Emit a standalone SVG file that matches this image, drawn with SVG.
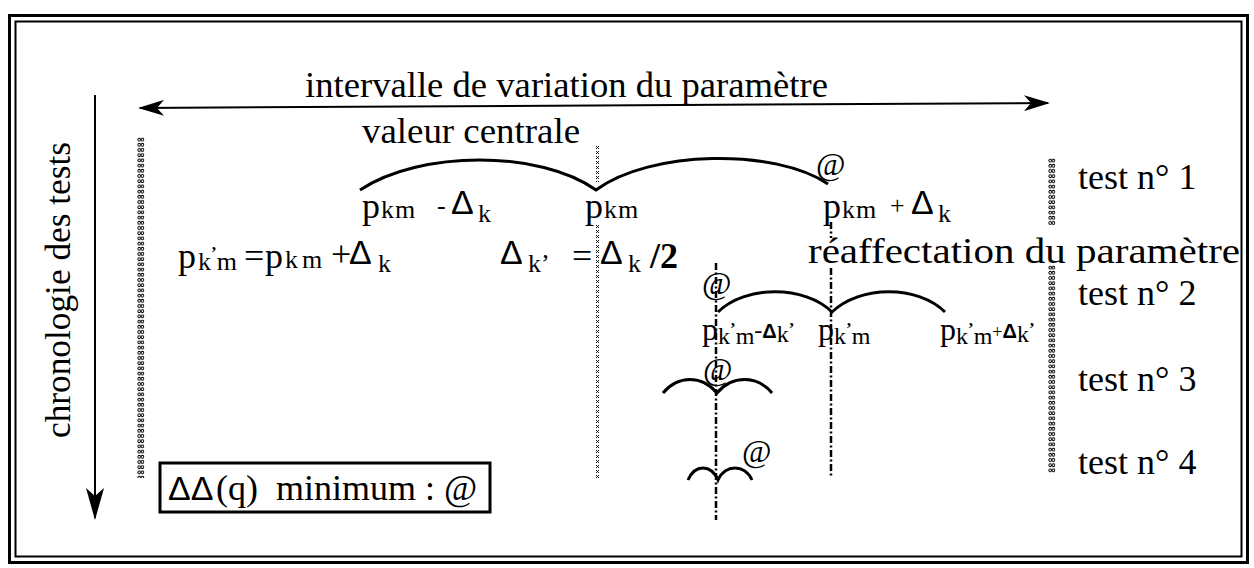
<svg xmlns="http://www.w3.org/2000/svg" width="1254" height="568" viewBox="0 0 1254 568">
<style>
text{fill:#000}
.t{font-family:"Liberation Serif","Times New Roman",serif;font-size:36px}
.p{font-family:"Liberation Serif","Times New Roman",serif;font-size:36px}
.sb{font-family:"Liberation Serif","Times New Roman",serif;font-size:26px}
.sb2{font-family:"Liberation Serif","Times New Roman",serif;font-size:24px}
.ap{font-size:17px;font-weight:bold}
.d{font-family:"Liberation Sans",Arial,sans-serif;font-size:34px}
.d2{font-family:"Liberation Sans",Arial,sans-serif;font-size:20px;font-weight:bold}
.at{font-family:"Liberation Serif","Times New Roman",serif;font-size:32px}
.curve{fill:none;stroke:#000;stroke-width:3}
.dd{stroke:#000;stroke-width:2.5;stroke-dasharray:7 2.5 2 2.5;fill:none}
.ln{stroke:#000;stroke-width:2;fill:none}
</style>
<defs>
<pattern id="oo" width="8" height="5.2" patternUnits="userSpaceOnUse">
<circle cx="2.2" cy="2.6" r="1.4" fill="none" stroke="#000" stroke-width="0.9"/>
<circle cx="5.4" cy="2.6" r="1.4" fill="none" stroke="#000" stroke-width="0.9"/>
</pattern>
<pattern id="xx" width="5" height="5" patternUnits="userSpaceOnUse">
<path d="M1,1 L4,4 M4,1 L1,4" stroke="#000" stroke-width="0.9"/>
</pattern>
<marker id="ah" viewBox="0 0 26 16" refX="24" refY="8" markerWidth="26" markerHeight="16" markerUnits="userSpaceOnUse" orient="auto-start-reverse">
<path d="M0,0 L26,8 L0,16 L7,8 Z" fill="#000"/>
</marker>
<marker id="av" viewBox="0 0 32 18" refX="30" refY="9" markerWidth="32" markerHeight="18" markerUnits="userSpaceOnUse" orient="auto">
<path d="M0,0 L32,9 L0,18 L8,9 Z" fill="#000"/>
</marker>
</defs>

<g id="frame">
<rect x="9.5" y="15.5" width="1238" height="547" fill="none" stroke="#000" stroke-width="3"/>
<rect x="15.5" y="21.5" width="1226" height="535" fill="none" stroke="#000" stroke-width="2"/>
</g>

<g id="connectors">
<line class="ln" x1="140" y1="108" x2="1048" y2="103" marker-start="url(#ah)" marker-end="url(#ah)"/>
<line class="ln" x1="95" y1="95" x2="95" y2="518" stroke-width="2.5" marker-end="url(#av)"/>
<line class="dd" x1="716" y1="263" x2="716" y2="520"/>
<line class="dd" x1="831" y1="222" x2="831" y2="238"/>
<line class="dd" x1="831" y1="268" x2="831" y2="478"/>
</g>

<g id="columns">
<g transform="translate(137,137)"><rect width="8" height="341" fill="url(#oo)"/></g>
<g transform="translate(1048,158)"><rect width="8" height="67" fill="url(#oo)"/></g>
<g transform="translate(1048,265)"><rect width="8" height="208" fill="url(#oo)"/></g>
<g transform="translate(595,145)"><rect width="5" height="37" fill="url(#xx)"/></g>
<g transform="translate(595,224)"><rect width="5" height="255" fill="url(#xx)"/></g>
</g>

<g id="axis-title">
<text class="t" x="305" y="97" textLength="523" lengthAdjust="spacingAndGlyphs">intervalle de variation du paramètre</text>
</g>
<g id="axis-time">
<text class="t" transform="rotate(-90 70 290)" x="70" y="290" text-anchor="middle" textLength="296" lengthAdjust="spacingAndGlyphs">chronologie des tests</text>
</g>

<g id="test1"><text class="t" x="1078" y="189">test n° 1</text></g>
<g id="test2"><text class="t" x="1078" y="305">test n° 2</text></g>
<g id="test3"><text class="t" x="1078" y="391">test n° 3</text></g>
<g id="test4"><text class="t" x="1078" y="474">test n° 4</text></g>

<g id="curve1">
<text class="t" x="362" y="143" textLength="218" lengthAdjust="spacingAndGlyphs">valeur centrale</text>
<path class="curve" d="M360,190 C420,150 540,150 596,190 C650,150 775,148 828,184"/>
<text class="at" x="816" y="175">@</text>
<text class="p" x="362" y="218">p</text><text class="sb" x="381" y="218" letter-spacing="1">km</text>
<text class="sb" x="437" y="214">-</text>
<text class="d" x="451" y="214">Δ</text><text class="sb" x="478" y="222">k</text>
<text class="p" x="585" y="218">p</text><text class="sb" x="604" y="218" letter-spacing="1">km</text>
<text class="p" x="823" y="218">p</text><text class="sb" x="842" y="218" letter-spacing="1">km</text>
<text class="sb" x="890" y="214">+</text>
<text class="d" x="911" y="214">Δ</text><text class="sb" x="938" y="222">k</text>
</g>

<g id="reassign">
<text class="p" x="178" y="268">p</text>
<text class="sb" x="198" y="270">k<tspan class="ap" dy="-12">’</tspan><tspan dy="12">m</tspan></text>
<text class="t" x="244" y="268">=</text>
<text class="p" x="265" y="268">p</text><text class="sb" x="285" y="268" letter-spacing="4">km</text>
<text class="t" x="331" y="266">+</text>
<text class="d" x="349" y="264">Δ</text><text class="sb" x="378" y="272">k</text>
<text class="d" x="500" y="264">Δ</text><text class="sb" x="528" y="272">k’</text>
<text class="t" x="572" y="268">=</text>
<text class="d" x="600" y="264">Δ</text><text class="sb" x="628" y="272">k</text>
<text class="t" x="650" y="268" font-weight="bold">/2</text>
<text class="t" x="808" y="263" textLength="432" lengthAdjust="spacingAndGlyphs">réaffectation du paramètre</text>
</g>

<g id="curve2">
<text class="at" x="702" y="294">@</text>
<path class="curve" d="M718,312 C745,285 805,285 832,312 C860,285 918,285 945,312"/>
<text class="sb2" x="702" y="340"><tspan font-size="32">p</tspan><tspan dy="4">k</tspan><tspan class="ap" font-size="15" dy="-10">’</tspan><tspan dy="10">m</tspan><tspan dy="-6">-</tspan><tspan class="d2">Δ</tspan><tspan dy="4">k</tspan><tspan class="ap" font-size="15" dy="-8">’</tspan></text>
<text class="sb2" x="818" y="340"><tspan font-size="32">p</tspan><tspan dy="4">k</tspan><tspan class="ap" font-size="15" dy="-10">’</tspan><tspan dy="10">m</tspan></text>
<text class="sb2" x="940" y="340"><tspan font-size="32">p</tspan><tspan dy="4">k</tspan><tspan class="ap" font-size="15" dy="-10">’</tspan><tspan dy="10">m</tspan><tspan font-size="18" dy="-6">+</tspan><tspan class="d2">Δ</tspan><tspan dy="4">k</tspan><tspan class="ap" font-size="15" dy="-8">’</tspan></text>
</g>

<g id="curve3">
<text class="at" x="703" y="380">@</text>
<path class="curve" d="M663,393 C678,375 702,375 717,393 C732,375 757,375 772,393"/>
</g>

<g id="curve4">
<text class="at" x="742" y="462">@</text>
<path class="curve" d="M688,480 C695,464 711,464 718,480 C725,464 745,464 752,480"/>
</g>

<g id="legend">
<rect x="160" y="463" width="330" height="49" fill="none" stroke="#000" stroke-width="3"/>
<text class="d" x="168" y="500">ΔΔ</text>
<text class="t" x="216" y="500" xml:space="preserve">(q)  minimum : @</text>
</g>
</svg>
